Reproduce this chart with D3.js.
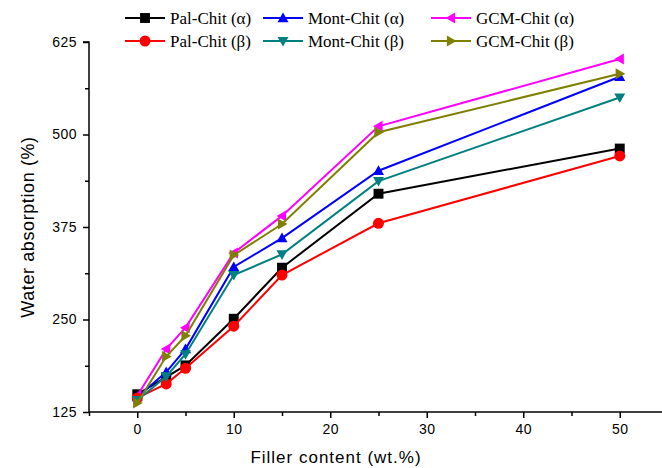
<!DOCTYPE html>
<html>
<head>
<meta charset="utf-8">
<script src="https://cdn.jsdelivr.net/npm/d3@7"></script>
<style>
  body { margin: 0; background: #fff; }
  svg { display: block; }
</style>
</head>
<body>
<svg id="chart" width="662" height="468"></svg>
<script>
// Filler loading (wt.%) shared by every series
const fillerContent = [0, 3, 5, 10, 15, 25, 50];

// Water absorption (%) per composite
const palChitA  = [149, 172, 188, 251, 320, 420, 481];
const palChitB  = [144, 163, 184, 241, 310, 380, 471];
const montChitA = [145, 179, 210, 321, 360, 451, 578];
const montChitB = [141, 173, 203, 310, 338, 437, 550];
const gcmChitA  = [147, 210, 239, 340, 390, 511, 602];
const gcmChitB  = [137, 200, 228, 337, 379, 503, 582];

const xTicks = [0, 10, 20, 30, 40, 50];
const yTicks = [125, 250, 375, 500, 625];

const seriesNames  = ["Pal-Chit (α)", "Mont-Chit (α)", "GCM-Chit (α)", "Pal-Chit (β)", "Mont-Chit (β)", "GCM-Chit (β)"];
const seriesValues = [palChitA, montChitA, gcmChitA, palChitB, montChitB, gcmChitB];
const seriesColors = ["#000000", "#0000ff", "#ff00ff", "#ff0000", "#008080", "#808000"];
const seriesMarks  = ["square", "triUp", "triLeft", "circle", "triDown", "triRight"];

const svg = d3.select("#chart");
const x = d3.scaleLinear().domain([-5, 55]).range([89, 668]);
const y = d3.scaleLinear().domain([125, 625]).range([412, 42]);

const sans = "'Liberation Sans', Arial, sans-serif";

// marker path generator centred on the origin
function markerPath(kind, s) {
  const h = s / 2;
  switch (kind) {
    case "square":  return `M${-h*0.9},${-h*0.9}H${h*0.9}V${h*0.9}H${-h*0.9}Z`;
    case "circle":  return d3.symbol(d3.symbolCircle, Math.PI * h * h)();
    case "triUp":   return `M0,${-h}L${h},${h*0.75}L${-h},${h*0.75}Z`;
    case "triDown": return `M0,${h}L${h},${-h*0.75}L${-h},${-h*0.75}Z`;
    case "triLeft": return `M${-h},0L${h*0.75},${-h}L${h*0.75},${h}Z`;
    case "triRight":return `M${h},0L${-h*0.75},${-h}L${-h*0.75},${h}Z`;
  }
}

// axes
const xAxis = d3.axisBottom(x).tickValues(xTicks).tickSize(6).tickPadding(6).tickFormat(d3.format("d"));
const xMinor = d3.axisBottom(x).tickValues([-5, 5, 15, 25, 35, 45, 55]).tickSize(4).tickFormat("");
const yAxis = d3.axisLeft(y).tickValues(yTicks).tickSize(6).tickPadding(6).tickFormat(d3.format("d"));
const yMinor = d3.axisLeft(y).tickValues([187.5, 312.5, 437.5, 562.5]).tickSize(4).tickFormat("");

function styleAxis(g) {
  g.select(".domain").attr("stroke", "#000").attr("stroke-width", 1.5);
  g.selectAll(".tick line").attr("stroke", "#000").attr("stroke-width", 1.5);
  g.selectAll(".tick text").attr("fill", "#000")
    .style("font-family", sans).style("font-size", "14px").style("letter-spacing", "0.5px");
}

svg.append("g").attr("transform", `translate(0,${y(125)})`).call(xAxis).call(styleAxis)
  .select(".domain").attr("d", `M${x(-5)},0H662`);
svg.append("g").attr("transform", `translate(0,${y(125)})`).call(xMinor).call(styleAxis)
  .select(".domain").remove();
svg.append("g").attr("transform", `translate(${x(-5)},0)`).call(yAxis).call(styleAxis)
  .select(".domain").attr("d", `M-6,${y(625)}H0V${y(125)}`);
svg.append("g").attr("transform", `translate(${x(-5)},0)`).call(yMinor).call(styleAxis)
  .select(".domain").remove();

// axis titles
svg.append("text").attr("x", 336).attr("y", 463).attr("text-anchor", "middle")
  .style("font-family", sans).style("font-size", "17px")
  .style("letter-spacing", "1px").text("Filler content (wt.%)");
svg.append("text").attr("transform", "translate(34,227) rotate(-90)").attr("text-anchor", "middle")
  .style("font-family", sans).style("font-size", "18px").style("letter-spacing", "0.6px")
  .text("Water absorption (%)");

// series
const line = d3.line().x((d, i) => x(fillerContent[i])).y(d => y(d));
const plot = svg.append("g");
seriesValues.forEach((vals, k) => {
  const g = plot.append("g");
  g.append("path").attr("d", line(vals)).attr("fill", "none")
    .attr("stroke", seriesColors[k]).attr("stroke-width", 2);
  g.selectAll("path.m").data(vals).join("path").attr("class", "m")
    .attr("transform", (d, i) => `translate(${x(fillerContent[i])},${y(d)})`)
    .attr("d", markerPath(seriesMarks[k], 11))
    .attr("fill", seriesColors[k]);
});

// legend: two rows of three
const legendCols = [{lx: 125, tx: 170}, {lx: 263, tx: 308}, {lx: 431, tx: 476}];
const legendRows = [18, 41];
seriesNames.forEach((name, k) => {
  const col = legendCols[k % 3], ry = legendRows[Math.floor(k / 3)];
  const g = svg.append("g");
  g.append("line").attr("x1", col.lx).attr("x2", col.lx + 40).attr("y1", ry).attr("y2", ry)
    .attr("stroke", seriesColors[k]).attr("stroke-width", 2);
  g.append("path").attr("transform", `translate(${col.lx + 20},${ry})`)
    .attr("d", markerPath(seriesMarks[k], 11)).attr("fill", seriesColors[k]);
  g.append("text").attr("x", col.tx).attr("y", ry + 6)
    .style("font-family", "'Liberation Serif', 'Times New Roman', serif").style("font-size", "17px")
    .text(name);
});
</script>
</body>
</html>
